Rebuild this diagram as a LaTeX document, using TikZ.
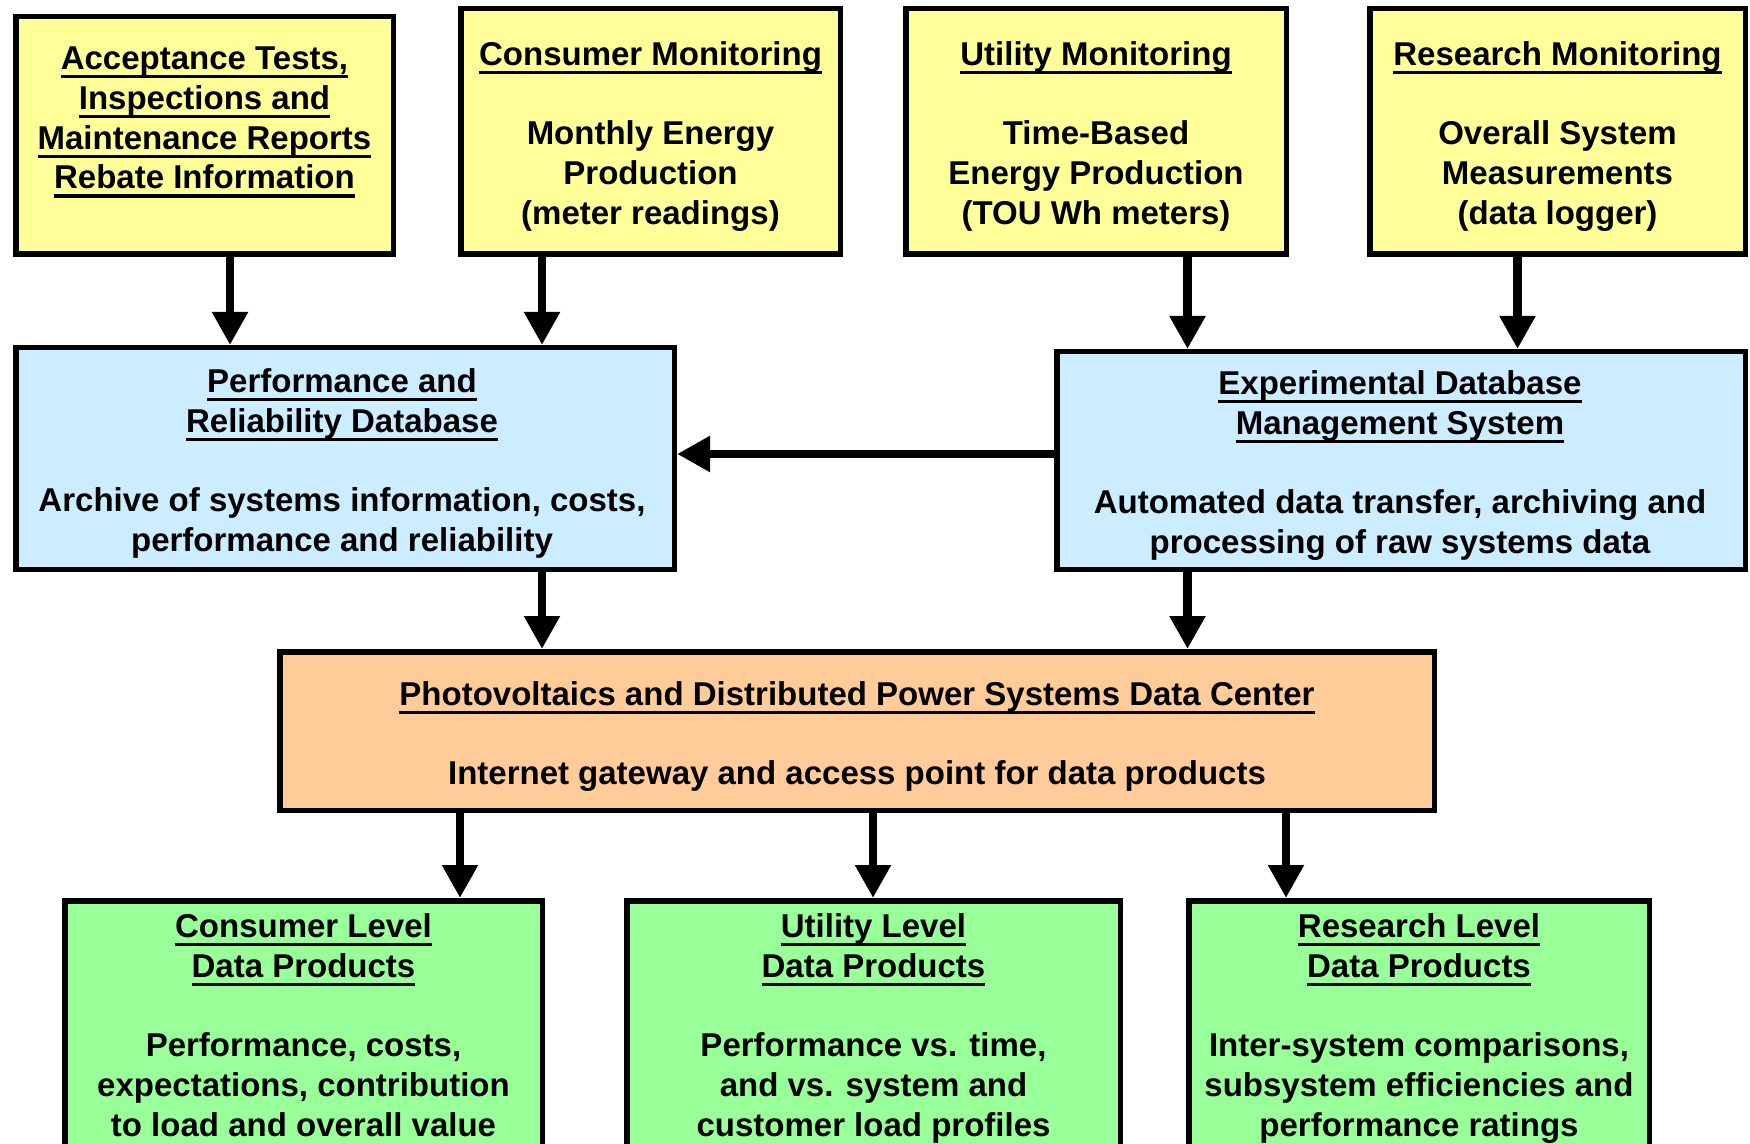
\documentclass[tikz,border=0pt]{standalone}
\usepackage{fontspec}
\setmainfont{Liberation Sans}
\usetikzlibrary{arrows.meta}
\definecolor{padyellow}{HTML}{FFFF99}
\definecolor{padblue}{HTML}{CCECFF}
\definecolor{padorange}{HTML}{FFCC99}
\definecolor{padgreen}{HTML}{99FF99}
% heavy underline for box titles
\newcommand{\hdr}[1]{\setbox0\hbox{#1}\rlap{\rule[-3.5pt]{\wd0}{1.3pt}}\box0}
\begin{document}
\begin{tikzpicture}[x=0.4pt,y=-0.4pt,
  box/.style n args={3}{draw=black, line width=2.2pt, fill=#1,
    minimum width=#2*0.4pt, minimum height=#3*0.4pt, inner sep=0pt},
  txt/.style={anchor=north, align=center, inner sep=0pt,
    font=\bfseries\fontsize{13.2}{15.9}\selectfont},
  arr/.style={line width=3.4pt, -{Triangle[length=13.2pt,width=13.6pt]}}]

\useasboundingbox (0,0) rectangle (1750,1144);
\clip (0,0) rectangle (1750,1144);
\fill[white] (0,0) rectangle (1750,1144);

% monitoring sources
\node[box={padyellow}{377.5}{237.5}] (A) at (204.5,135.5) {};
\node[box={padyellow}{379.5}{245.5}] (B) at (650.5,131.5) {};
\node[box={padyellow}{380.5}{245.5}] (C) at (1096,131.5) {};
\node[box={padyellow}{375.5}{245.5}] (D) at (1557.5,131.5) {};

% databases
\node[box={padblue}{658.5}{221.5}] (P) at (345,458.5) {};
\node[box={padblue}{688.5}{217.5}] (E) at (1401,460.5) {};

% data center
\node[box={padorange}{1154.5}{158.5}] (O) at (857,731) {};

% data products
\node[box={padgreen}{477.5}{296.5}] (G1) at (303.5,1049) {};
\node[box={padgreen}{493.5}{296.5}] (G2) at (873.5,1049) {};
\node[box={padgreen}{460.5}{296.5}] (G3) at (1419,1049) {};

% texts
\node[txt] (At) at (204.5,46.5) {\hdr{Acceptance Tests,}\\\hdr{Inspections and}\\\hdr{Maintenance Reports}\\\hdr{Rebate Information}};
\node[txt] (Bt) at (650.5,41) {\hdr{Consumer Monitoring}\\[15.9pt]Monthly Energy\\Production\\(meter readings)};
\node[txt] (Ct) at (1096,41) {\hdr{Utility Monitoring}\\[15.9pt]Time-Based\\Energy Production\\(TOU Wh meters)};
\node[txt] (Dt) at (1557.5,41) {\hdr{Research Monitoring}\\[15.9pt]Overall System\\Measurements\\(data logger)};
\node[txt] (Pt) at (342,368) {\hdr{Performance and}\\\hdr{Reliability Database}\\[15.9pt]Archive of systems information, costs,\\performance and reliability};
\node[txt] (Et) at (1400,370) {\hdr{Experimental Database}\\\hdr{Management System}\\[15.9pt]Automated data transfer, archiving and\\processing of raw systems data};
\node[txt] (Ot) at (857,681) {\hdr{Photovoltaics and Distributed Power Systems Data Center}\\[15.9pt]Internet gateway and access point for data products};
\node[txt] (G1t) at (303.5,913) {\hdr{Consumer Level}\\\hdr{Data Products}\\[15.9pt]Performance, costs,\\expectations, contribution\\to load and overall value};
\node[txt] (G2t) at (873.5,913) {\hdr{Utility Level}\\\hdr{Data Products}\\[15.9pt]Performance vs. time,\\and vs. system and\\customer load profiles};
\node[txt] (G3t) at (1419,913) {\hdr{Research Level}\\\hdr{Data Products}\\[15.9pt]Inter-system comparisons,\\subsystem efficiencies and\\performance ratings};

% connector columns
\coordinate (xa) at (230,0);
\coordinate (xb) at (542,0);
\coordinate (xc) at (1187.5,0);
\coordinate (xd) at (1517.5,0);
\coordinate (xg1) at (460,0);
\coordinate (xg2) at (873,0);
\coordinate (xg3) at (1286,0);
\coordinate (hy) at (0,454);

\draw[arr] (xa |- A.south) -- (xa |- P.north);
\draw[arr] (xb |- B.south) -- (xb |- P.north);
\draw[arr] (xc |- C.south) -- (xc |- E.north);
\draw[arr] (xd |- D.south) -- (xd |- E.north);
\draw[arr] (E.west |- hy) -- (P.east |- hy);
\draw[arr] (xb |- P.south) -- (xb |- O.north);
\draw[arr] (xc |- E.south) -- (xc |- O.north);
\draw[arr] (xg1 |- O.south) -- (xg1 |- G1.north);
\draw[arr] (xg2 |- O.south) -- (xg2 |- G2.north);
\draw[arr] (xg3 |- O.south) -- (xg3 |- G3.north);
\end{tikzpicture}
\end{document}
